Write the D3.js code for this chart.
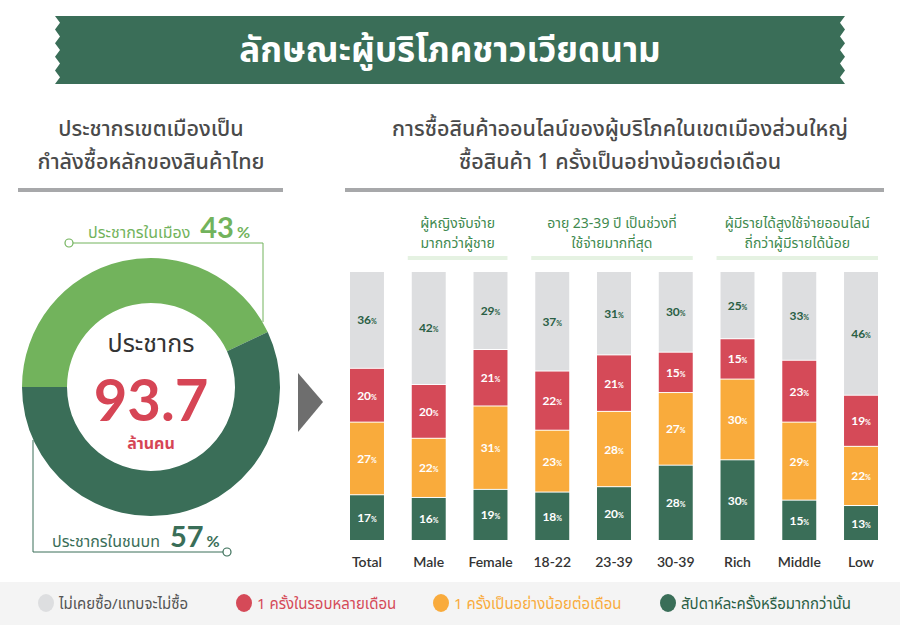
<!DOCTYPE html>
<html>
<head>
<meta charset="utf-8">
<script src="https://cdn.jsdelivr.net/npm/d3@7"></script>
<style>
  body { margin: 0; background: #fff; }
  svg { display: block; font-family: "Noto Sans Thai", "Noto Sans", sans-serif; }
  .num { font-family: Lato, "Noto Sans", sans-serif; }
</style>
</head>
<body>
<svg id="chart" width="900" height="625"></svg>
<script>
// ---- data ----
var categories = ["Total", "Male", "Female", "18-22", "23-39", "30-39", "Rich", "Middle", "Low"];
var weekly    = [17, 16, 19, 18, 20, 28, 30, 15, 13];
var monthly   = [27, 22, 31, 23, 28, 27, 30, 29, 22];
var fewMonths = [20, 20, 21, 22, 21, 15, 15, 23, 19];
var never     = [36, 42, 29, 37, 31, 30, 25, 33, 46];

var seriesKeys  = ["weekly", "monthly", "fewMonths", "never"];
var seriesNames = ["สัปดาห์ละครั้งหรือมากกว่านั้น", "1 ครั้งเป็นอย่างน้อยต่อเดือน", "1 ครั้งในรอบหลายเดือน", "ไม่เคยซื้อ/แทบจะไม่ซื้อ"];

var donutLabels = ["ประชากรในเมือง", "ประชากรในชนบท"];
var donutValues = [43, 57];

var groupLines = [["ผู้หญิงจับจ่าย", "มากกว่าผู้ชาย"],
                  ["อายุ 23-39 ปี เป็นช่วงที่", "ใช้จ่ายมากที่สุด"],
                  ["ผู้มีรายได้สูงใช้จ่ายออนไลน์", "ถี่กว่าผู้มีรายได้น้อย"]];
var groupFrom = ["Male", "18-22", "Rich"];
var groupTo   = ["Female", "30-39", "Low"];

var colors = {weekly: "#3a6e58", monthly: "#f9ab3c", fewMonths: "#d54a58", never: "#dddee0"};
var darkGreen = "#3a6e58", lightGreen = "#72b35c", red = "#d64555";

var svg = d3.select("#chart");

// ---- title banner with zigzag edges ----
var bx0 = 55, bx1 = 845, by0 = 16, by1 = 84, teeth = 5;
var th = (by1 - by0) / teeth;
var pts = [[bx0, by0], [bx1, by0]];
for (var i = 0; i < teeth; i++) {
    pts.push([bx1 - 5, by0 + th * (i + 0.5)]);
    pts.push([bx1, by0 + th * (i + 1)]);
}
pts.push([bx0, by1]);
for (var i = teeth - 1; i >= 0; i--) {
    pts.push([bx0 + 5, by0 + th * (i + 0.5)]);
    pts.push([bx0, by0 + th * i]);
}
svg.append("path")
    .attr("d", d3.line()(pts) + "Z")
    .attr("fill", darkGreen);

svg.append("text")
    .attr("x", 450).attr("y", (by0 + by1) / 2 + 12)
    .attr("text-anchor", "middle")
    .attr("fill", "#fff")
    .attr("font-size", 35).attr("font-weight", 700)
    .text("ลักษณะผู้บริโภคชาวเวียดนาม");

// ---- section headings ----
function heading(x, lines, x0, x1) {
    lines.forEach(function(t, i) {
        svg.append("text")
            .attr("x", x).attr("y", 136 + i * 33)
            .attr("text-anchor", "middle")
            .attr("fill", "#4a4a4a")
            .attr("font-size", 21.5).attr("font-weight", 500)
            .text(t);
    });
    svg.append("rect")
        .attr("x", x0).attr("y", 188)
        .attr("width", x1 - x0).attr("height", 4)
        .attr("fill", "#a7a8aa");
}
heading(151, ["ประชากรเขตเมืองเป็น", "กำลังซื้อหลักของสินค้าไทย"], 18, 283);
heading(620, ["การซื้อสินค้าออนไลน์ของผู้บริโภคในเขตเมืองส่วนใหญ่", "ซื้อสินค้า 1 ครั้งเป็นอย่างน้อยต่อเดือน"], 345, 884);

// ---- donut ----
var cx = 151, cy = 387;
var pie = d3.pie().sort(null).startAngle(-Math.PI / 2).endAngle(Math.PI * 1.5);
var arc = d3.arc().innerRadius(84).outerRadius(129);
svg.append("g")
    .attr("transform", "translate(" + cx + "," + cy + ")")
  .selectAll("path")
  .data(pie(donutValues))
  .enter().append("path")
    .attr("d", arc)
    .attr("fill", function(d, i) { return i === 0 ? lightGreen : darkGreen; });

svg.append("text")
    .attr("x", cx).attr("y", 352)
    .attr("text-anchor", "middle").attr("fill", "#333")
    .attr("font-size", 25)
    .text("ประชากร");
svg.append("text")
    .attr("class", "num")
    .attr("x", cx).attr("y", 421)
    .attr("text-anchor", "middle").attr("fill", red)
    .attr("font-size", 58).attr("font-weight", 700)
    .text("93.7");
svg.append("text")
    .attr("x", cx).attr("y", 449)
    .attr("text-anchor", "middle").attr("fill", red)
    .attr("font-size", 16).attr("font-weight", 700)
    .text("ล้านคน");

// callout lines
svg.append("path")
    .attr("d", "M73,243H263V322")
    .attr("fill", "none").attr("stroke", lightGreen).attr("stroke-width", 1);
svg.append("circle").attr("cx", 69).attr("cy", 243).attr("r", 4)
    .attr("fill", "#fff").attr("stroke", lightGreen).attr("stroke-width", 1.2);
svg.append("path")
    .attr("d", "M33,440V552H223")
    .attr("fill", "none").attr("stroke", darkGreen).attr("stroke-width", 1);
svg.append("circle").attr("cx", 227).attr("cy", 552).attr("r", 4)
    .attr("fill", "#fff").attr("stroke", darkGreen).attr("stroke-width", 1.2);

function callout(x, y, label, value, color) {
    var t = svg.append("text").attr("x", x).attr("y", y).attr("fill", color);
    t.append("tspan").attr("font-size", 16).text(label);
    t.append("tspan").attr("class", "num").attr("dx", 10).attr("font-size", 29).attr("font-weight", 700).text(value);
    t.append("tspan").attr("class", "num").attr("font-size", 16).attr("font-weight", 700).attr("dx", 3).text("%");
}
callout(88, 238, donutLabels[0], donutValues[0], lightGreen);
callout(52, 547, donutLabels[1], donutValues[1], darkGreen);

// arrow
svg.append("path")
    .attr("d", "M298,373L323,402L298,432Z")
    .attr("fill", "#6e6e6e");

// ---- stacked bars ----
var rows = categories.map(function(c, i) {
    return {cat: c, weekly: weekly[i], monthly: monthly[i], fewMonths: fewMonths[i], never: never[i]};
});
var stack = d3.stack().keys(seriesKeys)(rows);

var x = d3.scaleBand()
    .domain(categories)
    .range([350, 878])
    .paddingInner(0.45)
    .paddingOuter(0);

var y = d3.scaleLinear()
    .domain([0, 100])
    .range([541, 272]);

var layers = svg.append("g").selectAll("g")
    .data(stack)
    .enter().append("g")
      .attr("fill", function(d) { return colors[d.key]; });

layers.selectAll("rect")
    .data(function(d) { return d; })
    .enter().append("rect")
      .attr("x", function(d) { return x(d.data.cat); })
      .attr("y", function(d) { return y(d[1]); })
      .attr("width", x.bandwidth())
      .attr("height", function(d) { return y(d[0]) - y(d[1]) - 1; });

layers.each(function(layer) {
    var g = d3.select(this);
    var labels = g.selectAll("text")
        .data(layer)
        .enter().append("text")
          .attr("class", "num")
          .attr("x", function(d) { return x(d.data.cat) + x.bandwidth() / 2; })
          .attr("y", function(d) { return (y(d[0]) + y(d[1])) / 2 + 4; })
          .attr("text-anchor", "middle")
          .attr("font-weight", 700)
          .attr("fill", layer.key === "never" ? "#2a5e45" : "#fff");
    labels.append("tspan").attr("font-size", 12).text(function(d) { return d[1] - d[0]; });
    labels.append("tspan").attr("font-size", 7).text("%");
});

// category axis
var xAxis = d3.axisBottom(x).tickSize(0).tickPadding(0);
var axisG = svg.append("g")
    .attr("transform", "translate(0,557)")
    .call(xAxis);
axisG.select(".domain").remove();
axisG.selectAll("text")
    .attr("class", "num")
    .attr("font-size", 14)
    .attr("font-weight", 600)
    .attr("fill", "#333");

// group subheaders
groupLines.forEach(function(lines, i) {
    var gx0 = x(groupFrom[i]) - 4, gx1 = x(groupTo[i]) + x.bandwidth();
    var mid = (gx0 + gx1) / 2;
    lines.forEach(function(t, j) {
        svg.append("text")
            .attr("x", mid).attr("y", 228 + j * 20)
            .attr("text-anchor", "middle")
            .attr("fill", "#3f8a4f")
            .attr("font-size", 14)
            .text(t);
    });
    svg.append("rect")
        .attr("x", gx0).attr("y", 256)
        .attr("width", gx1 - gx0).attr("height", 4)
        .attr("fill", "#e5f2e2");
});

// ---- legend ----
svg.append("rect")
    .attr("x", 0).attr("y", 582)
    .attr("width", 900).attr("height", 43)
    .attr("fill", "#f4f4f4");

var legendOrder = [3, 2, 1, 0];
var legendX = [46, 244, 441, 668];
var legendText = {never: "#555", fewMonths: "#d54a58", monthly: "#f9ab3c", weekly: "#2a5e45"};
legendOrder.forEach(function(si, i) {
    var key = seriesKeys[si];
    svg.append("ellipse")
        .attr("cx", legendX[i]).attr("cy", 603)
        .attr("rx", 8).attr("ry", 9)
        .attr("fill", colors[key]);
    svg.append("text")
        .attr("x", legendX[i] + 13).attr("y", 609)
        .attr("fill", legendText[key])
        .attr("font-size", 15)
        .text(seriesNames[si]);
});
</script>
</body>
</html>
